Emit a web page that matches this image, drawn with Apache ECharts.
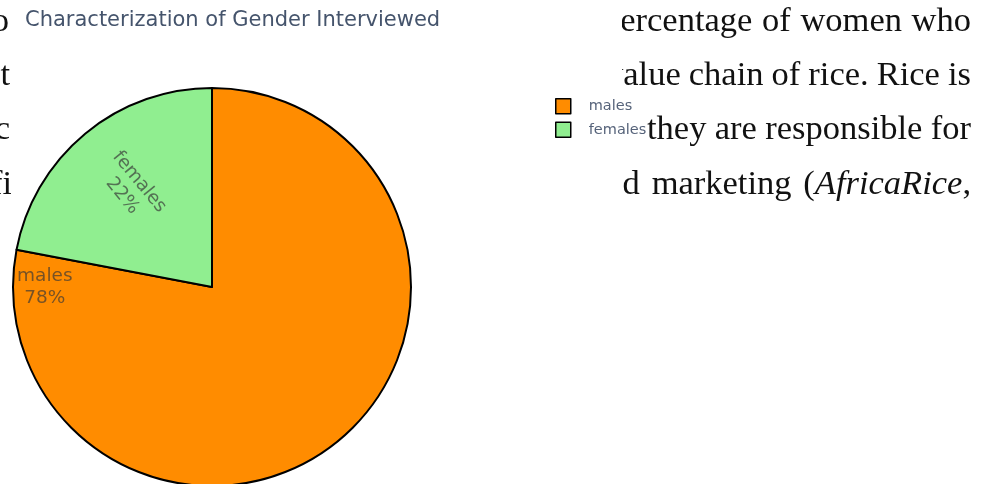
<!DOCTYPE html>
<html>
<head>
<meta charset="utf-8">
<script src="https://cdn.jsdelivr.net/npm/echarts@6/dist/echarts.min.js"></script>
<style>
  html, body { margin: 0; padding: 0; background: #fff; }
  #chart { width: 982px; height: 484px; }
</style>
</head>
<body>
<div id="chart"></div>
<script>
// Survey respondents by gender (percent)
const categories = ['males', 'females'];
const shares = [78, 22];
const sliceColors = ['#FF8C00', '#90EE90'];

// Page text running behind the figure (justified lines; {i|...} = italic)
const pageLinesRight = [
  ['percentage', 'of', 'women', 'who'],
  ['value', 'chain', 'of', 'rice.', 'Rice', 'is'],
  ['they', 'are', 'responsible', 'for'],
  ['and', 'marketing', '{n|(}{i|AfricaRice}{n|,}']
];
const pageLinesLeft = ['to', 'at', 'c', 'fi'];

const W = 982, H = 484;
const CX = 212, CY = 287, R = 199;
const START = 90;

// Label anchors: angle in degrees and fraction of radius
const total = shares.reduce((a, b) => a + b, 0);
const midAngles = [];
let acc = START;
shares.forEach(v => {
  const sweep = v / total * 360;
  midAngles.push(acc - sweep / 2);
  acc -= sweep;
});
const labelPlace = [
  { angle: 180, frac: 0.84, rotate: 0 },
  { angle: midAngles[1], frac: 0.64, rotate: midAngles[1] - 180 }
];

const serif = '"Liberation Serif", "Times New Roman", serif';
const sans = '"DejaVu Sans", Verdana, sans-serif';
const FS = 34.5;
const lineY = [22, 76, 130, 185];
const lineStart = [603, 606, 647, 590];
const lineEnd = 971;
const leftX = [9, 10, 10, 12];

// measure words so each line can be justified between its start and the margin
const mctx = document.createElement('canvas').getContext('2d');
function segments(word) {
  const m = word.match(/\{(\w)\|[^}]*\}/g);
  if (!m) return [{ s: word, it: false }];
  return m.map(x => ({ s: x.slice(3, -1), it: x[1] === 'i' }));
}
function wordWidth(word) {
  return segments(word).reduce((w, seg) => {
    mctx.font = (seg.it ? 'italic ' : '') + FS + 'px ' + serif;
    return w + mctx.measureText(seg.s).width;
  }, 0);
}

const richStyles = {
  n: { fontSize: FS, fontFamily: serif, fill: '#111' },
  i: { fontSize: FS, fontFamily: serif, fontStyle: 'italic', fill: '#111' }
};
const graphics = [];
pageLinesRight.forEach((words, li) => {
  const widths = words.map(wordWidth);
  const used = widths.reduce((a, b) => a + b, 0);
  const gap = (lineEnd - lineStart[li] - used) / (words.length - 1);
  let x = lineStart[li];
  words.forEach((w, wi) => {
    graphics.push({
      type: 'text', z: 0, x: x, y: lineY[li],
      style: {
        text: w, fill: '#111', font: FS + 'px ' + serif,
        align: 'left', verticalAlign: 'middle', rich: richStyles
      }
    });
    x += widths[wi] + gap;
  });
});
pageLinesLeft.forEach((t, i) => {
  graphics.push({
    type: 'text', z: 0, x: leftX[i], y: lineY[i],
    style: { text: t, fill: '#111', font: FS + 'px ' + serif, align: 'right', verticalAlign: 'middle' }
  });
});
// figure paper
graphics.push({
  type: 'rect', z: 1,
  shape: { x: 11, y: 0, width: 611, height: H },
  style: { fill: '#fff' }
});

const chart = echarts.init(document.getElementById('chart'), null, { renderer: 'canvas' });
chart.setOption({
  backgroundColor: '#fff',
  animation: false,
  graphic: { elements: graphics },
  title: {
    text: 'Characterization of Gender Interviewed',
    left: 20, top: 5,
    textStyle: { fontFamily: sans, fontSize: 21, fontWeight: 'normal', color: '#45546c' },
    z: 6
  },
  legend: {
    orient: 'vertical',
    left: 549, top: 92,
    padding: [6, 1, 14, 6],
    backgroundColor: 'rgba(255,255,255,0.92)',
    itemWidth: 15, itemHeight: 15, itemGap: 7,
    icon: 'rect',
    itemStyle: { borderColor: '#000', borderWidth: 1.5 },
    textStyle: { fontFamily: sans, fontSize: 14.5, lineHeight: 15, color: '#56637a', padding: [0, 0, 0, 13] },
    data: categories,
    z: 5
  },
  series: [{
    type: 'pie',
    z: 2,
    center: [CX, CY],
    radius: R,
    startAngle: START,
    clockwise: true,
    avoidLabelOverlap: false,
    itemStyle: { borderColor: '#000', borderWidth: 2 },
    label: {
      show: true,
      position: 'inside',
      formatter: p => p.name + '\n' + Math.round(p.percent) + '%',
      fontFamily: sans, fontSize: 18.5, lineHeight: 22,
      color: 'rgba(55,55,55,0.68)',
      align: 'center'
    },
    labelLine: { show: false },
    labelLayout: p => {
      const lp = labelPlace[p.dataIndex];
      const a = lp.angle * Math.PI / 180;
      return {
        x: CX + R * lp.frac * Math.cos(a),
        y: CY - R * lp.frac * Math.sin(a),
        rotate: lp.rotate,
        align: 'center',
        verticalAlign: 'middle'
      };
    },
    emphasis: { disabled: true },
    data: categories.map((c, i) => ({ name: c, value: shares[i], itemStyle: { color: sliceColors[i] } }))
  }]
});
</script>
</body>
</html>
